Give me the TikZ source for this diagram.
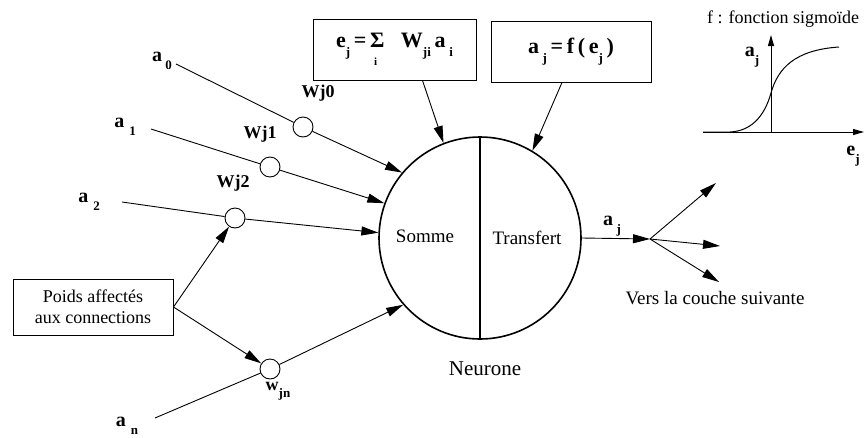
\documentclass[tikz,border=0pt]{standalone}
\usepackage{fontspec}
\setmainfont{Liberation Serif}
\usetikzlibrary{arrows.meta}
\newcommand\lowsub[1]{\raisebox{-0.38em}{\fontsize{13}{13}\selectfont #1}}
\newcommand\sumi{\makebox[0pt][l]{\hspace{0.18em}\raisebox{-0.8em}{\fontsize{11}{11}\selectfont i}}Σ}
\tikzset{
  lbl/.style={font=\fontsize{20}{22}\selectfont\bfseries, inner sep=0pt},
  wlbl/.style={font=\fontsize{18}{20}\selectfont\bfseries, inner sep=0pt},
  txt/.style={font=\fontsize{19}{22}\selectfont, inner sep=0pt},
  fbox/.style={draw, line width=1pt, inner sep=0pt},
  wc/.style={circle, draw, line width=0.9pt, minimum size=20pt, inner sep=0pt},
  ln/.style={line width=0.9pt},
  arr/.style={line width=0.9pt, -{Triangle[length=17pt,width=9pt]}},
  sarr/.style={line width=1pt, -{Triangle[length=11pt,width=6pt]}},
}
\begin{document}
\begin{tikzpicture}[x=1pt,y=-1pt]
\useasboundingbox (0,0) rectangle (864,437);
% neuron
\node[circle, draw, line width=1.6pt, minimum size=202pt, inner sep=0pt] (N) at (480,238) {};
\draw[line width=1.2pt] (N.north) -- (N.south);
\node[txt] (som) at (425,236) {Somme};
\node[txt] (tra) at (527,238) {Transfert};
\node[txt, font=\fontsize{21}{24}\selectfont] (neu) at (485,369) {Neurone};
% formula boxes
\node[fbox, minimum width=163pt, minimum height=61pt] (B1) at (394.5,49.5)
  {\fontsize{22}{24}\selectfont\bfseries e\lowsub{j}\,=\,\sumi\ \ \ W\lowsub{ji}\,a\,\lowsub{i}};
\node[fbox, minimum width=160pt, minimum height=61pt] (B2) at (571,51.5)
  {\fontsize{22}{24}\selectfont\bfseries a\,\lowsub{j}\,=\,f\,(\,e\lowsub{j}\,)};
\draw[arr] ([xshift=28pt]B1.south) -- (N.111);
\draw[arr] ([xshift=-9pt]B2.south) -- (N.59);
% weights
\node[wc] (w0) at (303,127) {};
\node[wc] (w1) at (270,167) {};
\node[wc] (w2) at (235,218) {};
\node[wc] (wn) at (270,369) {};
\node[wlbl] (lw0) at (318,93) {Wj0};
\node[wlbl] (lw1) at (260,134) {Wj1};
\node[wlbl] (lw2) at (233,183) {Wj2};
\node[wlbl] (lwn) at (278,391) {w\lowsub{jn}};
% inputs
\coordinate (a0s) at (176,64);
\coordinate (a1s) at (151,129);
\coordinate (a2s) at (122,202);
\coordinate (ans) at (155,418);
\node[lbl] (la0) at (162,61) {a\,\lowsub{0}};
\node[lbl] (la1) at (125,127) {a\ \lowsub{1}};
\node[lbl] (la2) at (89,202) {a\ \lowsub{2}};
\node[lbl] (lan) at (127,426) {a\ \lowsub{n}};
\draw[ln] (a0s) -- (w0);
\draw[ln] (a1s) -- (w1);
\draw[ln] (a2s) -- (w2);
\draw[ln] (ans) -- (wn);
\draw[arr] (w0) -- (N.140);
\draw[arr] (w1) -- (N.160);
\draw[arr] (w2) -- (N.177);
\draw[arr] (wn) -- (N.221);
% weights box
\node[fbox, minimum width=160pt, minimum height=56pt, align=center,
      font=\fontsize{18}{21}\selectfont] (P) at (93,307) {Poids affectés\\aux connections};
\draw[arr] (P.east) -- (w2);
\draw[arr] (P.east) -- (wn);
% output
\coordinate (sp) at (650,239);
\coordinate (o1) at (716,183);
\coordinate (o2) at (720,246);
\coordinate (o3) at (719,282);
\node[lbl] (laj) at (612,226) {a\,\lowsub{j}};
\draw[arr] (N.east) -- (sp);
\draw[arr] (sp) -- (o1);
\draw[arr] (sp) -- (o2);
\draw[arr] (sp) -- (o3);
\node[txt] (vers) at (715,298) {Vers la couche suivante};
% sigmoid inset
\node[txt, font=\fontsize{18}{20}\selectfont] (ttl) at (783,19) {f : fonction sigmoïde};
\draw[sarr] (703,132) -- (864,132);
\draw[sarr] (771,132) -- (771,35);
\draw[line width=1pt] (703,132) -- (730,132) .. controls (750,131) and (764,118) .. (771,93)
   .. controls (778,68) and (795,50) .. (839,47);
\node[lbl] (saj) at (752,57) {a\lowsub{j}};
\node[lbl] (sej) at (853,156) {e\lowsub{j}};
\end{tikzpicture}
\end{document}
